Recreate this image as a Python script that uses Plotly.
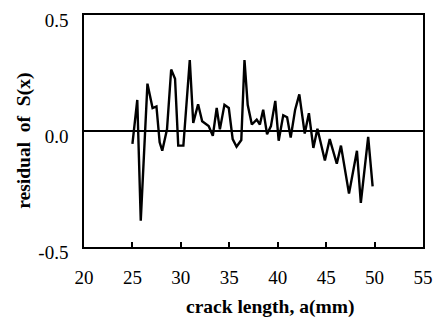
import plotly.graph_objects as go

crack_length = [25.0, 25.5, 25.86, 26.55, 27.08, 27.48, 27.81, 28.08, 28.57, 29.0,
                29.4, 29.73, 30.26, 30.92, 31.28, 31.78, 32.2, 32.87, 33.3, 33.7,
                34.03, 34.5, 34.95, 35.35, 35.75, 36.24, 36.57, 36.9, 37.33, 37.83,
                38.16, 38.5, 38.9, 39.3, 39.75, 40.1, 40.57, 40.97, 41.34, 41.8,
                42.23, 42.79, 43.22, 43.68, 44.1, 44.87, 45.37, 46.1, 46.53, 47.36,
                48.18, 48.58, 49.34, 49.8]
residual = [-0.056, 0.134, -0.387, 0.204, 0.099, 0.106, -0.049, -0.085, 0.007, 0.265,
            0.225, -0.063, -0.063, 0.306, 0.035, 0.115, 0.042, 0.021, -0.021, 0.099,
            0.007, 0.113, 0.099, -0.035, -0.068, -0.039, 0.306, 0.113, 0.028, 0.049,
            0.028, 0.092, -0.014, 0.021, 0.130, -0.042, 0.068, 0.059, -0.028, 0.092,
            0.158, -0.011, 0.077, -0.073, 0.010, -0.127, -0.035, -0.141, -0.063, -0.270,
            -0.085, -0.310, -0.025, -0.239]

x_ticks = [20, 25, 30, 35, 40, 45, 50, 55]
y_ticks = [-0.5, 0.0, 0.5]
y_tick_labels = ["-0.5", "0.0", "0.5"]

fig = go.Figure()
fig.add_trace(go.Scatter(x=crack_length, y=residual, mode="lines",
                         line=dict(color="black", width=2.4), showlegend=False))

serif = "Liberation Serif"
tick_font = dict(family=serif, size=19, color="black")
title_font = dict(family=serif, size=19.5, color="black")

fig.update_layout(
    width=441, height=323,
    margin=dict(l=84, r=8, t=15, b=76),
    paper_bgcolor="white", plot_bgcolor="white",
    font=dict(family=serif, size=19, color="black"),
    xaxis=dict(range=[20, 55], tickvals=x_ticks, ticktext=[str(v) for v in x_ticks],
               ticks="inside", ticklen=5, tickwidth=1.5, tickcolor="black",
               showline=True, linecolor="black", linewidth=1.5, mirror=True,
               showgrid=False, zeroline=False, tickfont=tick_font,
               ticklabelstandoff=12),
    yaxis=dict(range=[-0.5, 0.5], tickvals=y_ticks, ticktext=y_tick_labels,
               ticks="", showline=True, linecolor="black", linewidth=1.5, mirror=True,
               showgrid=False, zeroline=True, zerolinecolor="black", zerolinewidth=1.5,
               tickfont=tick_font, ticklabelstandoff=10, ticklabelshift=5),
    annotations=[
        dict(text="<b>crack length, a(mm)</b>", xref="paper", yref="paper",
             x=(276 - 84) / 349, y=-(307 - 247) / 232, showarrow=False,
             xanchor="center", yanchor="middle", font=title_font),
        dict(text="<b>residual  of  S(x)</b>", xref="paper", yref="paper",
             x=-(84 - 22) / 349, y=(247 - 141) / 232, showarrow=False, textangle=-90,
             xanchor="center", yanchor="middle", font=title_font),
    ],
)

fig.write_html("out.html")
